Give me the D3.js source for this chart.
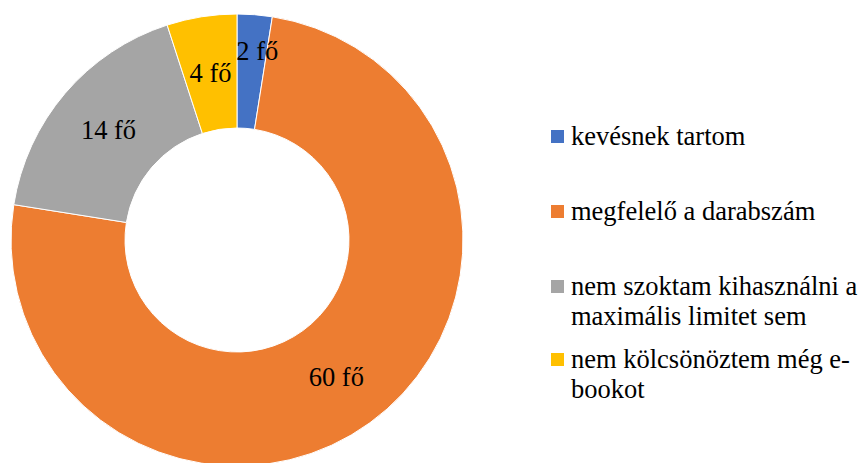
<!DOCTYPE html>
<html>
<head>
<meta charset="UTF-8">
<script src="https://d3js.org/d3.v7.min.js"></script>
<style>
    body { margin: 0; background: #fff; }
    #wrap { position: relative; width: 861px; height: 463px; overflow: hidden; }
    svg { position: absolute; left: 0; top: 0; }
    .t {
        position: absolute;
        font-family: "Liberation Serif", "Times New Roman", serif;
        font-size: 26.5px;
        line-height: 26.5px;
        white-space: nowrap;
        color: #000;
    }
    .mid { transform: translateX(-50%); }
</style>
</head>
<body>
<div id="wrap"><svg width="861" height="463"></svg></div>
<script>
// data
const categories = [
    "kevésnek tartom",
    "megfelelő a darabszám",
    "nem szoktam kihasználni a maximális limitet sem",
    "nem kölcsönöztem még e-bookot"
];
const legendLines = [
    ["kevésnek tartom"],
    ["megfelelő a darabszám"],
    ["nem szoktam kihasználni a", "maximális limitet sem"],
    ["nem kölcsönöztem még e-", "bookot"]
];
const values = [2, 60, 14, 4];
const unit = "fő";
const colors = ["#4472C4", "#ED7D31", "#A5A5A5", "#FFC000"];

const wrap = d3.select("#wrap");
const svg = d3.select("svg");
const cx = 237, cy = 240;
const outerR = 226, innerR = 112;
const baseOff = 22.2; // top of the line box to the text baseline

const data = categories.map((c, i) => ({ name: c, value: values[i], lines: legendLines[i] }));
const color = d3.scaleOrdinal().domain(categories).range(colors);

const pie = d3.pie().value(d => d.value).sort(null);
const arc = d3.arc().innerRadius(innerR).outerRadius(outerR);
const arcs = pie(data);

const g = svg.append("g").attr("transform", "translate(" + cx + "," + cy + ")");

g.selectAll("path")
    .data(arcs)
    .enter()
    .append("path")
    .attr("d", arc)
    .attr("fill", d => color(d.data.name))
    .attr("stroke", "#fff")
    .attr("stroke-width", 1);

// labels: the tiny first slice gets nudged up/right like in the original
wrap.selectAll("div.lbl")
    .data(arcs)
    .enter()
    .append("div")
    .attr("class", "t mid lbl")
    .style("left", d => (cx + arc.centroid(d)[0] + (d.index === 0 ? 7 : 0)) + "px")
    .style("top", d => (cy + arc.centroid(d)[1] + 9 + (d.index === 0 ? -20 : 0) - baseOff) + "px")
    .text(d => d.data.value + " " + unit);

// legend
const legendY = [145, 220, 295, 368];
data.forEach((d, i) => {
    svg.append("rect")
        .attr("x", 551)
        .attr("y", legendY[i] - 15)
        .attr("width", 13)
        .attr("height", 13)
        .attr("fill", color(d.name));
    d.lines.forEach((line, j) => {
        wrap.append("div")
            .attr("class", "t")
            .style("left", "571px")
            .style("top", (legendY[i] + j * 30 - baseOff) + "px")
            .text(line);
    });
});
</script>
</body>
</html>
